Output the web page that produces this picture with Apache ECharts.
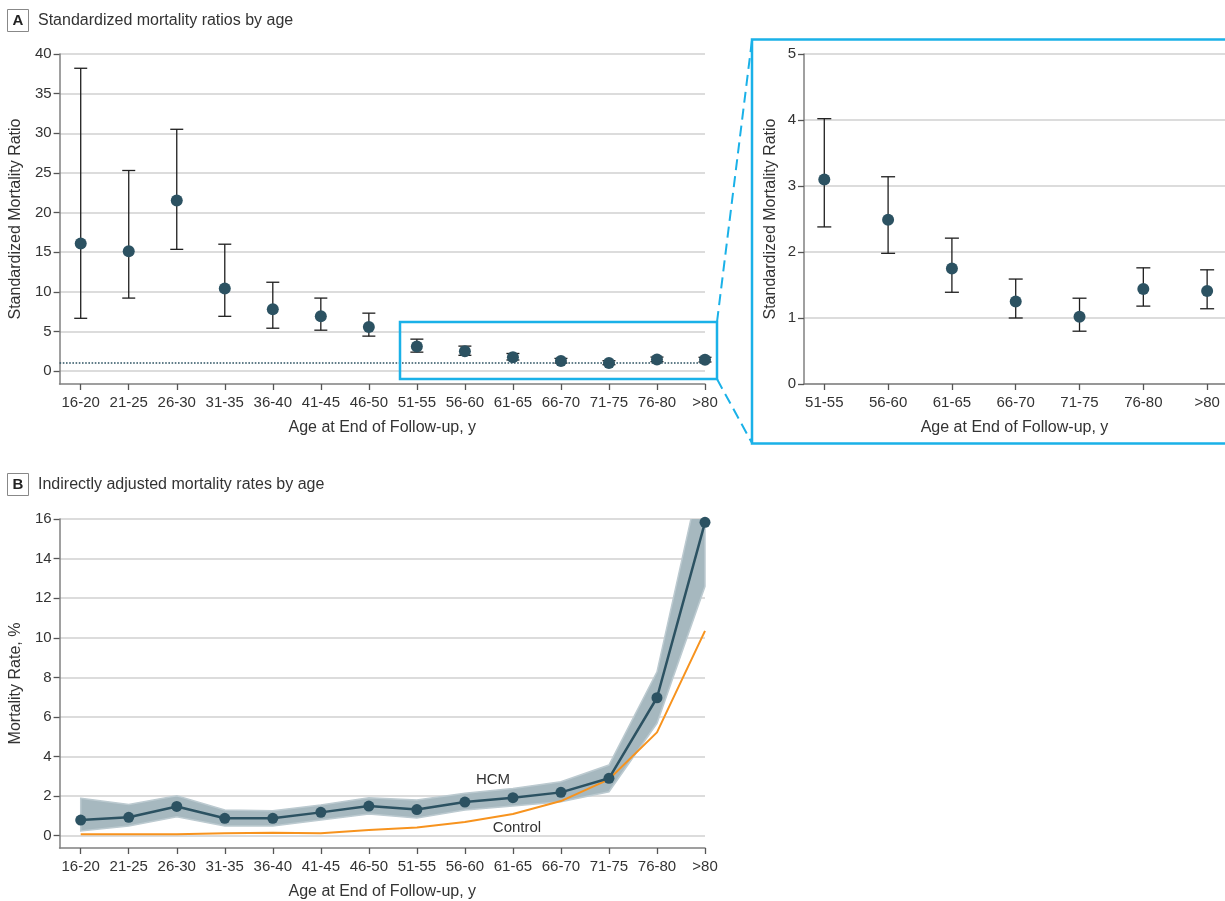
<!DOCTYPE html>
<html>
<head>
<meta charset="utf-8">
<script src="https://cdn.jsdelivr.net/npm/echarts@6/dist/echarts.min.js"></script>
<style>
  html, body { margin: 0; padding: 0; background: #fff; }
  #chart { width: 1225px; height: 901px; }
</style>
</head>
<body>
<div id="chart"></div>
<script>
// age groups at end of follow-up
const categories = ['16-20', '21-25', '26-30', '31-35', '36-40', '41-45', '46-50',
  '51-55', '56-60', '61-65', '66-70', '71-75', '76-80', '>80']

// panel A: standardized mortality ratio with 95% CI
const smrValue = [16.1, 15.1, 21.5, 10.4, 7.8, 6.9, 5.55, 3.1, 2.49, 1.75, 1.25, 1.02, 1.44, 1.41]
const smrLower = [6.65, 9.2, 15.35, 6.9, 5.4, 5.15, 4.4, 2.38, 1.98, 1.39, 1.0, 0.8, 1.18, 1.14]
const smrUpper = [38.2, 25.3, 30.5, 16.0, 11.2, 9.2, 7.3, 4.02, 3.14, 2.21, 1.59, 1.3, 1.76, 1.73]
const smrTicks = [0, 5, 10, 15, 20, 25, 30, 35, 40]
const insetTicks = [0, 1, 2, 3, 4, 5]
const insetFrom = 7 // 51-55 onwards

// panel B: mortality rate, %
const hcmRate = [0.79, 0.93, 1.48, 0.88, 0.88, 1.18, 1.5, 1.32, 1.7, 1.92, 2.19, 2.9, 6.97, 15.83]
const hcmLower = [0.24, 0.49, 0.96, 0.49, 0.49, 0.79, 1.1, 0.9, 1.3, 1.5, 1.72, 2.22, 5.68, 12.6]
const hcmUpper = [1.89, 1.58, 2.02, 1.3, 1.26, 1.55, 1.92, 1.8, 2.14, 2.39, 2.73, 3.57, 8.28, 19.2]
const controlRate = [0.07, 0.07, 0.08, 0.12, 0.15, 0.12, 0.29, 0.42, 0.69, 1.1, 1.75, 2.85, 5.22, 10.35]
const rateTicks = [0, 2, 4, 6, 8, 10, 12, 14, 16]

const dark = '#2c5262'
const blue = '#1ab1e8'
const orange = '#f7931e'
const textColor = '#333'
const font = "'Liberation Sans', Arial, sans-serif"

const idx = categories.map((c, i) => i)
const insetCats = categories.slice(insetFrom)
const insetIdx = insetCats.map((c, i) => i)

function xAxisFor(gridIndex, cats, ticks, min, max) {
  return {
    type: 'value', gridIndex, min, max,
    name: 'Age at End of Follow-up, y',
    nameLocation: 'middle', nameGap: 36,
    nameTextStyle: { fontSize: 16, color: textColor },
    axisLine: { onZero: false, lineStyle: { color: '#808080', width: 1.5 } },
    axisTick: { show: true, length: 6, customValues: ticks, lineStyle: { color: '#555', width: 1.3 } },
    axisLabel: { customValues: ticks, fontSize: 15, color: textColor, margin: 11,
      formatter: v => cats[Math.round(v)] },
    splitLine: { show: false }
  }
}

function yAxisFor(gridIndex, name, ticks, min, max, nameGap) {
  return {
    type: 'value', gridIndex, min, max,
    name, nameLocation: 'middle', nameGap,
    nameTextStyle: { fontSize: 16, color: textColor },
    axisLine: { show: true, onZero: false, lineStyle: { color: '#808080', width: 1.5 } },
    axisTick: { show: true, length: 6, customValues: ticks, lineStyle: { color: '#555', width: 1.3 } },
    axisLabel: { customValues: ticks, fontSize: 15, color: textColor, margin: 8 },
    splitLine: { show: true, lineStyle: { color: '#dcdcdc', width: 2 } }
  }
}

function errorBar(cap) {
  return function (params, api) {
    const x = api.value(0)
    const lo = api.coord([x, api.value(1)])
    const hi = api.coord([x, api.value(2)])
    const style = { stroke: '#1e1e1e', lineWidth: 1.3 }
    return {
      type: 'group',
      children: [
        { type: 'line', shape: { x1: lo[0], y1: lo[1], x2: hi[0], y2: hi[1] }, style },
        { type: 'line', shape: { x1: lo[0] - cap, y1: lo[1], x2: lo[0] + cap, y2: lo[1] }, style },
        { type: 'line', shape: { x1: hi[0] - cap, y1: hi[1], x2: hi[0] + cap, y2: hi[1] }, style }
      ]
    }
  }
}

const chart = echarts.init(document.getElementById('chart'))

const options = {
  animation: false,
  textStyle: { fontFamily: font, color: textColor },
  grid: [
    { left: 58, top: 54, width: 647, height: 330 },
    { left: 804, top: 54, right: 0, height: 330 },
    { left: 58, top: 519, width: 647, height: 329 }
  ],
  xAxis: [
    xAxisFor(0, categories, idx, -0.44, 13),
    xAxisFor(1, insetCats, insetIdx, -0.318, 6.28),
    xAxisFor(2, categories, idx, -0.44, 13)
  ],
  yAxis: [
    yAxisFor(0, 'Standardized Mortality Ratio', smrTicks, -1.64, 40, 35),
    yAxisFor(1, 'Standardized Mortality Ratio', insetTicks, 0, 5, 25),
    yAxisFor(2, 'Mortality Rate, %', rateTicks, -0.62, 16, 35)
  ],
  graphic: [
    { type: 'rect', shape: { x: 7.5, y: 9.5, width: 21, height: 22 }, style: { fill: '#fff', stroke: '#888', lineWidth: 1 } },
    { type: 'text', x: 18, y: 21, style: { text: 'A', fontSize: 15, fontWeight: 'bold', fontFamily: font, fill: '#222', align: 'center', verticalAlign: 'middle' } },
    { type: 'text', x: 38, y: 21, style: { text: 'Standardized mortality ratios by age', fontSize: 16, fontFamily: font, fill: textColor, verticalAlign: 'middle' } },
    { type: 'rect', shape: { x: 7.5, y: 473.5, width: 21, height: 22 }, style: { fill: '#fff', stroke: '#888', lineWidth: 1 } },
    { type: 'text', x: 18, y: 485, style: { text: 'B', fontSize: 15, fontWeight: 'bold', fontFamily: font, fill: '#222', align: 'center', verticalAlign: 'middle' } },
    { type: 'text', x: 38, y: 485, style: { text: 'Indirectly adjusted mortality rates by age', fontSize: 16, fontFamily: font, fill: textColor, verticalAlign: 'middle' } },
    // zoom box and its callout
    { type: 'rect', z: 10, shape: { x: 400, y: 322, width: 317, height: 57 }, style: { fill: 'none', stroke: blue, lineWidth: 2.5 } },
    { type: 'rect', z: 10, shape: { x: 752, y: 39.5, width: 500, height: 404 }, style: { fill: 'none', stroke: blue, lineWidth: 2.5 } },
    { type: 'line', z: 10, shape: { x1: 717, y1: 322, x2: 752, y2: 40 }, style: { stroke: blue, lineWidth: 2, lineDash: [11, 6] } },
    { type: 'line', z: 10, shape: { x1: 717, y1: 379, x2: 752, y2: 443 }, style: { stroke: blue, lineWidth: 2, lineDash: [11, 6] } },
    { type: 'text', x: 493, y: 780, style: { text: 'HCM', fontSize: 15, fontFamily: font, fill: textColor, align: 'center', verticalAlign: 'middle' } },
    { type: 'text', x: 517, y: 828, style: { text: 'Control', fontSize: 15, fontFamily: font, fill: textColor, align: 'center', verticalAlign: 'middle' } }
  ],
  series: [
    {
      type: 'custom', xAxisIndex: 0, yAxisIndex: 0,
      renderItem: errorBar(6.5),
      data: idx.map(i => [i, smrLower[i], smrUpper[i]]),
      z: 3
    },
    {
      type: 'scatter', xAxisIndex: 0, yAxisIndex: 0,
      symbolSize: 12, clip: false,
      itemStyle: { color: dark, opacity: 1 },
      data: idx.map(i => [i, smrValue[i]]),
      z: 4,
      markLine: {
        silent: true, symbol: 'none', label: { show: false },
        lineStyle: { type: 'dotted', color: dark, width: 1.6 },
        data: [{ yAxis: 1 }]
      }
    },
    {
      type: 'custom', xAxisIndex: 1, yAxisIndex: 1,
      renderItem: errorBar(7),
      data: insetIdx.map(i => [i, smrLower[i + insetFrom], smrUpper[i + insetFrom]]),
      z: 3
    },
    {
      type: 'scatter', xAxisIndex: 1, yAxisIndex: 1,
      symbolSize: 12, clip: false,
      itemStyle: { color: dark, opacity: 1 },
      data: insetIdx.map(i => [i, smrValue[i + insetFrom]]),
      z: 4
    },
    {
      // confidence band
      type: 'custom', xAxisIndex: 2, yAxisIndex: 2, clip: true,
      renderItem: (params, api) => {
        if (params.dataIndex !== 0) return null
        const upper = idx.map(i => api.coord([i, hcmUpper[i]]))
        const lower = idx.map(i => api.coord([i, hcmLower[i]])).reverse()
        const cs = params.coordSys
        return {
          type: 'polygon',
          shape: { points: upper.concat(lower) },
          style: { fill: '#a6b8bf', stroke: '#bccad0', lineWidth: 1.5 },
          clipPath: { type: 'rect', shape: { x: cs.x, y: cs.y - 1, width: cs.width + 1, height: cs.height } }
        }
      },
      data: idx.map(i => [i, hcmLower[i], hcmUpper[i]]),
      z: 2
    },
    {
      type: 'line', xAxisIndex: 2, yAxisIndex: 2, clip: false,
      symbol: 'none',
      lineStyle: { color: orange, width: 2 },
      data: idx.map(i => [i, controlRate[i]]),
      z: 3
    },
    {
      type: 'line', xAxisIndex: 2, yAxisIndex: 2, clip: false,
      symbol: 'circle', symbolSize: 11, showAllSymbol: true,
      lineStyle: { color: dark, width: 2.5 },
      itemStyle: { color: dark },
      data: idx.map(i => [i, hcmRate[i]]),
      z: 4
    }
  ]
}

chart.setOption(options)
</script>
</body>
</html>
